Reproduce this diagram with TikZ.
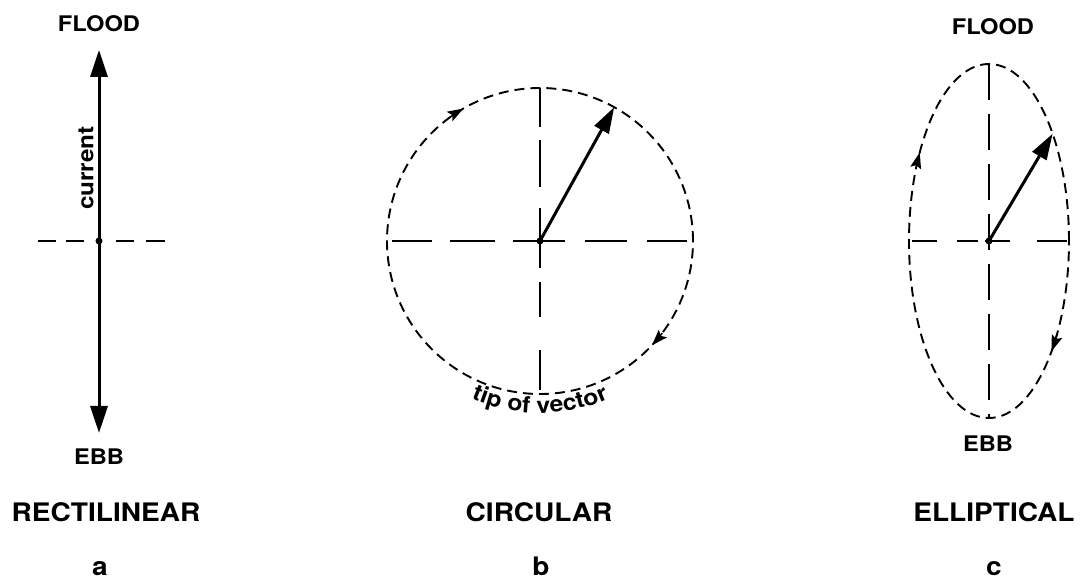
\documentclass[tikz,border=0pt]{standalone}
\usepackage{fontspec}
\setmainfont{TeX Gyre Heros}
\newfontfamily\widefam[FakeStretch=1.1]{TeX Gyre Heros}
\usetikzlibrary{arrows.meta,decorations.text}
\newcommand\smalllab{\widefam\bfseries\fontsize{21.5}{21.5}\selectfont}
\newcommand\biglab{\widefam\bfseries\fontsize{25.5}{25.5}\selectfont}
\newcommand\curlab{\widefam\bfseries\fontsize{22}{22}\selectfont}
\newcommand\tiplab{\widefam\bfseries\fontsize{22.5}{22.5}\selectfont}
\tikzset{
  lab/.style={inner sep=0pt, anchor=base},
  axisline/.style={line width=1.5pt},
  orbit/.style={line width=1.9pt, dash pattern=on 10pt off 6pt},
  mainvec/.style={line width=3pt, -{Triangle[length=26pt,width=16pt]}},
  bigvec/.style={line width=3pt, -{Triangle[length=27pt,width=17pt]}},
  turnarrow/.style={line width=1.5pt, -{Stealth[length=16pt,width=11pt,inset=3pt]}},
  centredot/.style={fill=black}
}
\begin{document}
\begin{tikzpicture}[x=1pt,y=1pt]
\useasboundingbox (0,0) rectangle (1080,581);

% ---------------- panel a : rectilinear ----------------
\coordinate (a0) at (99,340);
\coordinate (aN) at (99,531);
\coordinate (aS) at (99,148);
\foreach \p/\q in {38/56, 66/84, 116/134, 146/165}
  \draw[axisline] (\p,340) -- (\q,340);
\draw[bigvec] (a0) -- (aN);
\draw[bigvec] (a0) -- (aS);
\fill[centredot] (a0) circle (3.5pt);
\node[lab] (floodA) at (99,549) {\smalllab FLOOD};
\node[inner sep=0pt, rotate=90] (cur) at (86,413) {\curlab current};
\node[lab] (ebbA) at (99,116) {\smalllab EBB};
\node[lab] (rect) at (106,59) {\biglab RECTILINEAR};
\node[lab] (la) at (100,5) {\biglab a};

% ---------------- panel b : circular ----------------
\coordinate (b0) at (540,340);
\draw[orbit] (b0) circle[radius=153];
\foreach \p/\q in {392/432, 450/495, 513/565, 585/627, 647/687}
  \draw[axisline] (\p,340) -- (\q,340);
\foreach \p/\q in {454/493, 394/441, 313/373, 264/299, 191/231}
  \draw[axisline] (540,\p) -- (540,\q);
\path (b0) ++(61:153) coordinate (bTip);
\draw[mainvec] (b0) -- (bTip);
\fill[centredot] (b0) circle (3.5pt);
\draw[turnarrow] (b0) ++(126:153) arc[start angle=126,end angle=120,radius=153];
\draw[turnarrow] (b0) ++(-37:153) arc[start angle=-37,end angle=-43,radius=153];
\path[decorate, decoration={text along path, text align=center,
   text={|\tiplab|tip of vector}}]
   (b0) ++(230:172) arc[start angle=230,end angle=310,radius=172];
\node[lab] (circ) at (539,59) {\biglab CIRCULAR};
\node[lab] (lb) at (541,5) {\biglab b};

% ---------------- panel c : elliptical ----------------
\coordinate (c0) at (989,340);
\draw[orbit] (c0) ellipse[x radius=80, y radius=177];
\draw[axisline, dash pattern=on 36pt off 14pt] (989,517) -- (989,163);
\foreach \p/\q in {912/937, 957/978, 985/1010, 1037/1067}
  \draw[axisline] (\p,340) -- (\q,340);
\path (c0) ++(37.3:80 and 177) coordinate (cTip);
\draw[mainvec] (c0) -- (cTip);
\fill[centredot] (c0) circle (3.5pt);
\draw[turnarrow] (c0) ++(156:80 and 177) arc[start angle=156,end angle=150,x radius=80,y radius=177];
\draw[turnarrow] (c0) ++(-32:80 and 177) arc[start angle=-32,end angle=-38.5,x radius=80,y radius=177];
\node[lab] (floodC) at (993,546) {\smalllab FLOOD};
\node[lab] (ebbC) at (988,129) {\smalllab EBB};
\node[lab] (ell) at (994,59) {\biglab ELLIPTICAL};
\node[lab] (lc) at (994,5) {\biglab c};
\end{tikzpicture}
\end{document}
